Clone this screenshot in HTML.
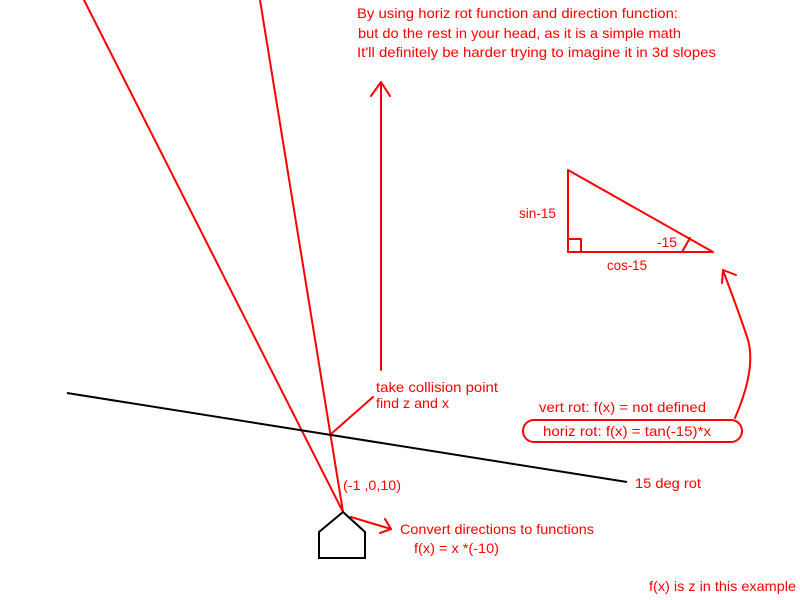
<!DOCTYPE html>
<html><head><meta charset="utf-8"><style>
html,body{margin:0;padding:0;background:#fff;}
svg{display:block;}
text{font-family:"Liberation Sans",sans-serif;font-size:14px;fill:#f00;}
</style></head><body>
<svg width="800" height="600" viewBox="0 0 800 600">
<g stroke="#f00" stroke-width="2" fill="none" stroke-linecap="round" stroke-linejoin="round">
<line x1="84" y1="0" x2="343" y2="512"/>
<line x1="260" y1="0" x2="343" y2="512"/>
<polyline points="381,370 381,82"/>
<polyline points="371,96 381,82 390,96"/>
<line x1="331" y1="434" x2="373" y2="397"/>
<line x1="351" y1="517" x2="391" y2="529"/>
<polyline points="385,519 391,529 380,533"/>
<polygon points="568,170 568,252 713,252"/>
<rect x="568" y="239" width="13" height="13"/>
<path d="M682,252 L690,238"/>
<path d="M735,418 C745,395 755,365 748,340 C740,315 732,295 723,270"/>
<polyline points="722,283 723,270 736,275"/>
<rect x="523" y="420" width="219" height="22" rx="11"/>
</g>
<line x1="67" y1="393" x2="627" y2="482" stroke="#000" stroke-width="2"/>
<polygon points="343,512 319,532 319,558 365,558 365,532" fill="none" stroke="#000" stroke-width="2"/>
<text x="357" y="18" textLength="321" lengthAdjust="spacingAndGlyphs">By using horiz rot function and direction function:</text>
<text x="358" y="38" textLength="323" lengthAdjust="spacingAndGlyphs">but do the rest in your head, as it is a simple math</text>
<text x="357" y="57" textLength="359" lengthAdjust="spacingAndGlyphs">It'll definitely be harder trying to imagine it in 3d slopes</text>
<text x="519" y="218" textLength="37" lengthAdjust="spacingAndGlyphs">sin-15</text>
<text x="657" y="247" textLength="20" lengthAdjust="spacingAndGlyphs">-15</text>
<text x="607" y="270" textLength="40" lengthAdjust="spacingAndGlyphs">cos-15</text>
<text x="376" y="392" textLength="122" lengthAdjust="spacingAndGlyphs">take collision point</text>
<text x="376" y="408" textLength="73" lengthAdjust="spacingAndGlyphs">find z and x</text>
<text x="539" y="412" textLength="167" lengthAdjust="spacingAndGlyphs">vert rot: f(x) = not defined</text>
<text x="543" y="436" textLength="168" lengthAdjust="spacingAndGlyphs">horiz rot: f(x) = tan(-15)*x</text>
<text x="635" y="488" textLength="66" lengthAdjust="spacingAndGlyphs">15 deg rot</text>
<text x="343" y="490" textLength="58" lengthAdjust="spacingAndGlyphs">(-1 ,0,10)</text>
<text x="400" y="534" textLength="194" lengthAdjust="spacingAndGlyphs">Convert directions to functions</text>
<text x="414" y="553" textLength="85" lengthAdjust="spacingAndGlyphs">f(x) = x *(-10)</text>
<text x="649" y="591" textLength="147" lengthAdjust="spacingAndGlyphs">f(x) is z in this example</text>
</svg>
</body></html>
